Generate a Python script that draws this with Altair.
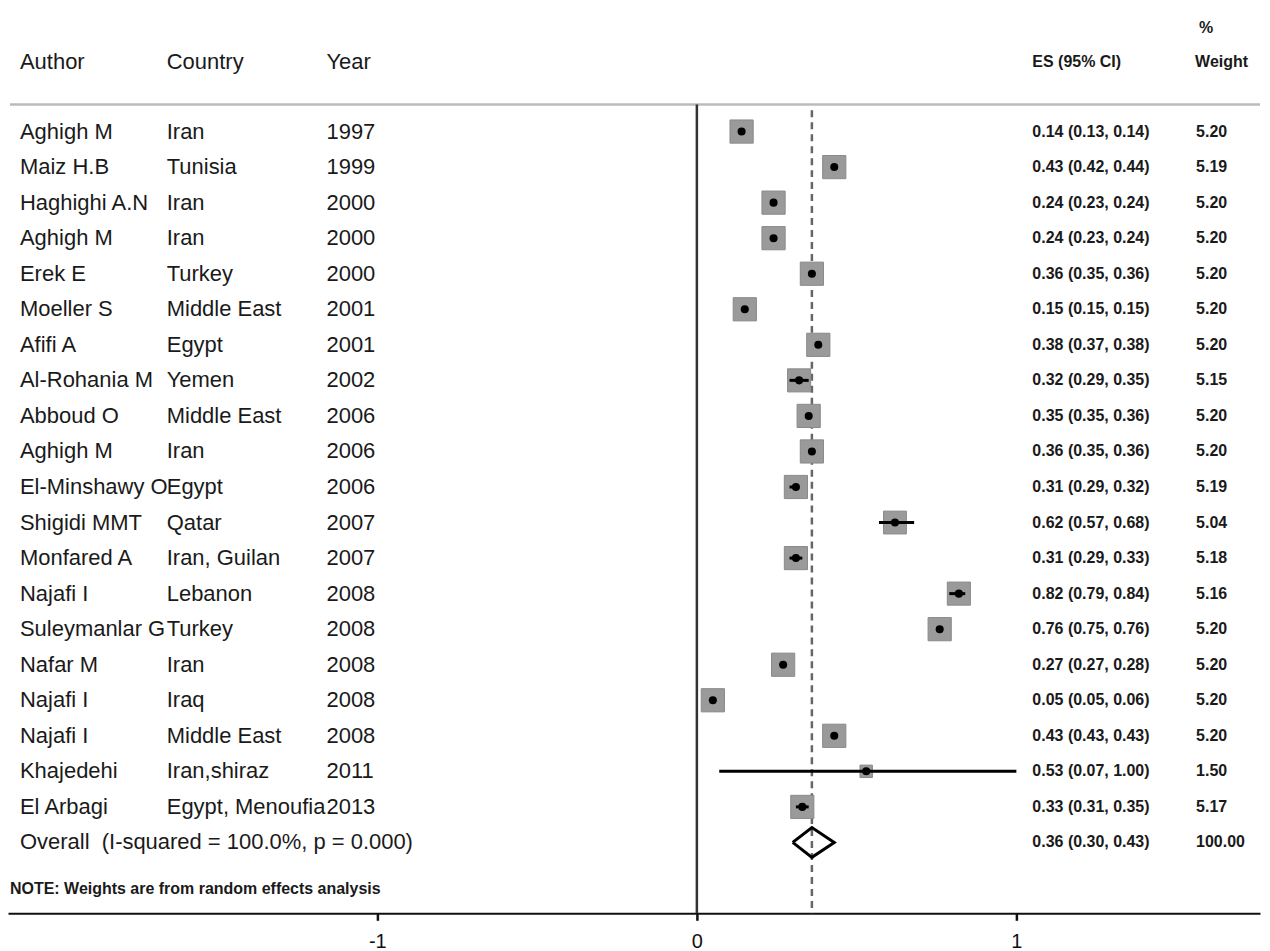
import altair as alt
import pandas as pd

authors = ["Aghigh M", "Maiz H.B", "Haghighi A.N", "Aghigh M", "Erek E", "Moeller S",
           "Afifi A", "Al-Rohania M", "Abboud O", "Aghigh M", "El-Minshawy O",
           "Shigidi MMT", "Monfared A", "Najafi I", "Suleymanlar G", "Nafar M",
           "Najafi I", "Najafi I", "Khajedehi", "El Arbagi"]
countries = ["Iran", "Tunisia", "Iran", "Iran", "Turkey", "Middle East", "Egypt", "Yemen",
             "Middle East", "Iran", "Egypt", "Qatar", "Iran, Guilan", "Lebanon", "Turkey",
             "Iran", "Iraq", "Middle East", "Iran,shiraz", "Egypt, Menoufia"]
years = [1997, 1999, 2000, 2000, 2000, 2001, 2001, 2002, 2006, 2006, 2006, 2007, 2007,
         2008, 2008, 2008, 2008, 2008, 2011, 2013]
es = [0.14, 0.43, 0.24, 0.24, 0.36, 0.15, 0.38, 0.32, 0.35, 0.36, 0.31, 0.62, 0.31,
      0.82, 0.76, 0.27, 0.05, 0.43, 0.53, 0.33]
lo = [0.13, 0.42, 0.23, 0.23, 0.35, 0.15, 0.37, 0.29, 0.35, 0.35, 0.29, 0.57, 0.29,
      0.79, 0.75, 0.27, 0.05, 0.43, 0.07, 0.31]
hi = [0.14, 0.44, 0.24, 0.24, 0.36, 0.15, 0.38, 0.35, 0.36, 0.36, 0.32, 0.68, 0.33,
      0.84, 0.76, 0.28, 0.06, 0.43, 1.00, 0.35]
weights = [5.20, 5.19, 5.20, 5.20, 5.20, 5.20, 5.20, 5.15, 5.20, 5.20, 5.19, 5.04, 5.18,
           5.16, 5.20, 5.20, 5.20, 5.20, 1.50, 5.17]

overall_label = "Overall\u00a0\u00a0(I-squared = 100.0%, p = 0.000)"
overall_es, overall_lo, overall_hi, overall_w = 0.36, 0.30, 0.43, 100.00
note = "NOTE: Weights are from random effects analysis"
x_ticks = [-1, 0, 1]

W, H = 1254, 906
FONT = "Liberation Sans"
XS = alt.Scale(domain=[-2.156, 1.7625], nice=False, zero=False)
YS = alt.Scale(domain=[-3.455, 21.994], reverse=True, nice=False, zero=False)
AX = alt.Axis(values=x_ticks, grid=False, title=None, domainColor="#111", domainWidth=2,
              tickColor="#111", tickWidth=2.5, tickSize=7, labelFontSize=20, labelFont=FONT,
              labelColor="#111", labelPadding=11, labelExpr="'' + datum.value",
              labelFlush=False)

n = len(authors)
df = pd.DataFrame({
    "row": list(range(n)), "author": authors, "country": countries,
    "year": [str(y) for y in years], "es": es, "lo": lo, "hi": hi, "w": weights,
})
df["es_lab"] = [f"{a:.2f} ({b:.2f}, {c:.2f})" for a, b, c in zip(es, lo, hi)]
df["w_lab"] = [f"{w:.2f}" for w in weights]

ov_row = n
ov = pd.DataFrame({"row": [ov_row], "label": [overall_label],
                   "es_lab": [f"{overall_es:.2f} ({overall_lo:.2f}, {overall_hi:.2f})"],
                   "w_lab": [f"{overall_w:.2f}"]})
dia = pd.DataFrame({
    "x": [overall_lo, overall_es, overall_hi, overall_es, overall_lo],
    "row": [ov_row, ov_row - 0.42, ov_row, ov_row + 0.42, ov_row],
    "o": [0, 1, 2, 3, 4],
})


def Y(field="row"):
    return alt.Y(f"{field}:Q", scale=YS, axis=None)


def X(field):
    return alt.X(f"{field}:Q", scale=XS, axis=AX)


def text_layer(data, field, xpx, size, weight="normal"):
    return alt.Chart(data).mark_text(
        align="left", baseline="middle", font=FONT, fontSize=size,
        fontWeight=weight, color="#1a1a1a"
    ).encode(x=alt.value(xpx), y=Y(), text=f"{field}:N")


hdr = pd.DataFrame({"row": [-1.97], "a": ["Author"], "c": ["Country"], "y": ["Year"],
                    "e": ["ES (95% CI)"], "w": ["Weight"]})
pct = pd.DataFrame({"row": [-2.92], "p": ["%"]})
note_df = pd.DataFrame({"row": [21.32], "t": [note]})
sep = pd.DataFrame({"row": [-0.76]})

header_rule = alt.Chart(sep).mark_rule(color="#bbbbbb", strokeWidth=2.5).encode(
    x=alt.value(2), x2=alt.value(W), y=Y())
zero_rule = alt.Chart(pd.DataFrame({"es": [0], "r0": [-0.76], "r1": [21.994]})).mark_rule(
    color="#333333", strokeWidth=2.5).encode(x=X("es"), y=Y("r0"), y2="r1:Q")
dash_rule = alt.Chart(pd.DataFrame({"es": [overall_es], "r0": [-0.6], "r1": [21.994]})).mark_rule(
    color="#666666", strokeWidth=2.5, strokeDash=[7, 5]).encode(
    x=X("es"), y=Y("r0"), y2="r1:Q")

squares = alt.Chart(df).mark_point(shape="square", filled=True, color="#9a9a9a",
                                   opacity=1, stroke="#8a8a8a", strokeWidth=1).encode(
    x=X("es"), y=Y(),
    size=alt.Size("w:Q", scale=alt.Scale(domain=[0, 5.2], range=[0, 540]), legend=None))
ci = alt.Chart(df).mark_rule(color="black", strokeWidth=3).encode(
    x=X("lo"), x2="hi:Q", y=Y())
dots = alt.Chart(df).mark_circle(color="black", size=65, opacity=1).encode(
    x=X("es"), y=Y())
diamond = alt.Chart(dia).mark_line(color="black", strokeWidth=3, strokeJoin="miter").encode(
    x=X("x"), y=Y(), order="o:Q")

layers = [
    header_rule, zero_rule, dash_rule, squares, ci, dots, diamond,
    text_layer(hdr, "a", 12, 22), text_layer(hdr, "c", 159, 22), text_layer(hdr, "y", 319, 22),
    text_layer(hdr, "e", 1026, 16, "bold"), text_layer(hdr, "w", 1189, 16, "bold"),
    text_layer(pct, "p", 1193, 16, "bold"),
    text_layer(df, "author", 12, 22), text_layer(df, "country", 159, 22),
    text_layer(df, "year", 319, 22),
    text_layer(df, "es_lab", 1026, 16, "bold"), text_layer(df, "w_lab", 1190, 16, "bold"),
    text_layer(ov, "label", 12, 22),
    text_layer(ov, "es_lab", 1026, 16, "bold"), text_layer(ov, "w_lab", 1190, 16, "bold"),
    text_layer(note_df, "t", 2, 16, "bold"),
]

chart = alt.layer(*layers).properties(
    width=W, height=H, padding=0, background="white"
).configure_view(strokeWidth=0, stroke="transparent")

chart.save("out.html", embed_options={"renderer": "svg", "actions": False})
